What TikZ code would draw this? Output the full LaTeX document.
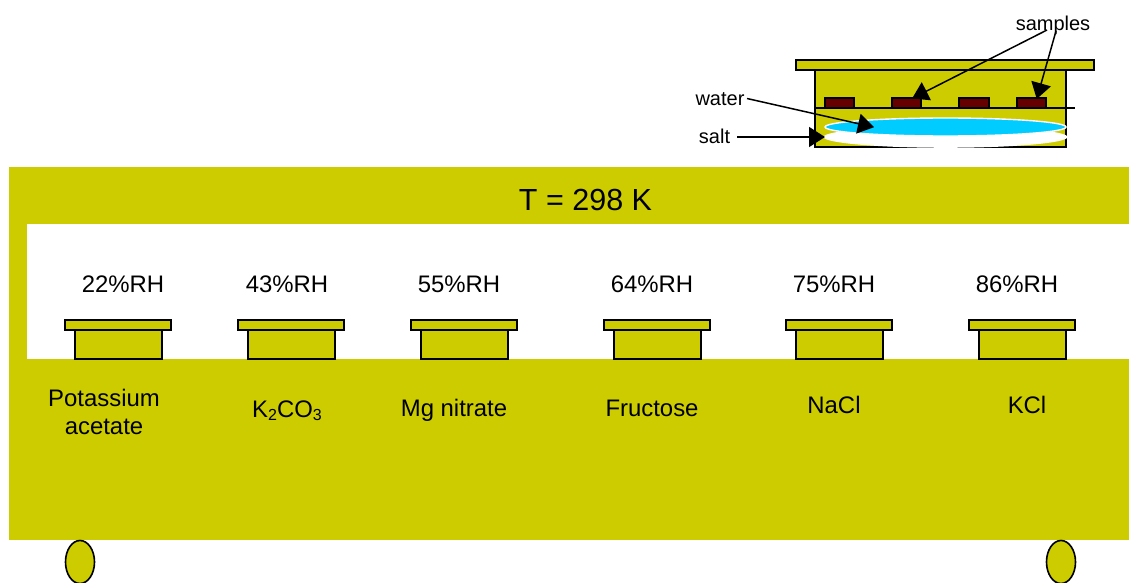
\documentclass[tikz,border=0pt]{standalone}
\usepackage{fontspec}
\setmainfont{Liberation Sans}
\usetikzlibrary{arrows.meta}
\definecolor{olivey}{HTML}{CCCC00}
\definecolor{cyanw}{HTML}{00CCFF}
\definecolor{darkr}{HTML}{660000}
\tikzset{
  x=1pt,y=-1pt,
  band/.style={fill=olivey,draw=none},
  part/.style={fill=olivey,draw=black,line width=1.6pt},
  sample/.style={fill=darkr,draw=black,line width=1.4pt},
  pointer/.style={draw=black,line width=1.5pt,-{Triangle[length=16pt,width=20pt]},shorten >=-1pt},
  big/.style={font=\fontsize{30.5}{30}\selectfont,anchor=base,inner sep=0pt},
  mid/.style={font=\fontsize{23.9}{28}\selectfont,anchor=base,inner sep=0pt},
  small/.style={font=\fontsize{20}{24}\selectfont,anchor=base,inner sep=0pt}
}
\newcommand{\dish}[1]{%
  \path[part] (#1+10,330) rectangle (#1+97,359);
  \path[part] (#1,320) rectangle (#1+106,330);
}
\begin{document}
\begin{tikzpicture}
\useasboundingbox (0,0) rectangle (1129,583);
% main frame
\path[band] (9,167) rectangle (1129,224);
\path[band] (9,224) rectangle (27,359);
\path[band] (9,359) rectangle (1129,540);
% wheels
\path[part] (80,562) ellipse [x radius=14.5, y radius=21.5];
\path[part] (1061,562) ellipse [x radius=14.5, y radius=21.5];
% dishes
\dish{65}\dish{238}\dish{411}\dish{604}\dish{786}\dish{969}
% detail dish
\path[part] (815,70) rectangle (1066,147);
\path[part] (796,60) rectangle (1094,70);
\path[sample] (825,98) rectangle (854,108);
\path[sample] (892,98) rectangle (921,108);
\path[sample] (959,98) rectangle (989,108);
\path[sample] (1017,98) rectangle (1046,108);
\draw[line width=1.2pt] (815,108) -- (1075,108);
\path[fill=white] (945.5,137) ellipse [x radius=122, y radius=10.8];
\path[fill=cyanw,draw=white,line width=1.4pt] (945.5,127) ellipse [x radius=120.5, y radius=9];
% labels
\node[big] (temp) at (585.5,210) {T = 298 K};
\node[mid] (rh1) at (123,292) {22\%RH};
\node[mid] (rh2) at (287,292) {43\%RH};
\node[mid] (rh3) at (459,292) {55\%RH};
\node[mid] (rh4) at (652,292) {64\%RH};
\node[mid] (rh5) at (834,292) {75\%RH};
\node[mid] (rh6) at (1017,292) {86\%RH};
\node[mid] (pa1) at (104,406) {Potassium};
\node[mid] (pa2) at (104,434) {acetate};
\node[mid] (k2co3) at (287,417) {K\raisebox{-0.13em}{\fontsize{16}{18}\selectfont 2}CO\raisebox{-0.13em}{\fontsize{16}{18}\selectfont 3}};
\node[mid] (mgn) at (454,416) {Mg nitrate};
\node[mid] (fru) at (652,416) {Fructose};
\node[mid] (nacl) at (834,413) {NaCl};
\node[mid] (kcl) at (1027,413) {KCl};
\node[small] (samples) at (1053,31) {samples};
\node[small] (water) at (720,106) {water};
\node[small] (salt) at (714.5,143) {salt};
% connectors
\coordinate (sa) at (1047,30);
\coordinate (sb) at (1056,31);
\coordinate (wa) at (747,98.5);
\coordinate (la) at (737,137);
\coordinate (t2) at (913,98);
\coordinate (t4) at (1037,98);
\coordinate (tw) at (873,127);
\coordinate (ts) at (824,137);
\draw[pointer] (sa) -- (t2);
\draw[pointer] (sb) -- (t4);
\draw[pointer] (wa) -- (tw);
\draw[pointer] (la) -- (ts);
\end{tikzpicture}
\end{document}
